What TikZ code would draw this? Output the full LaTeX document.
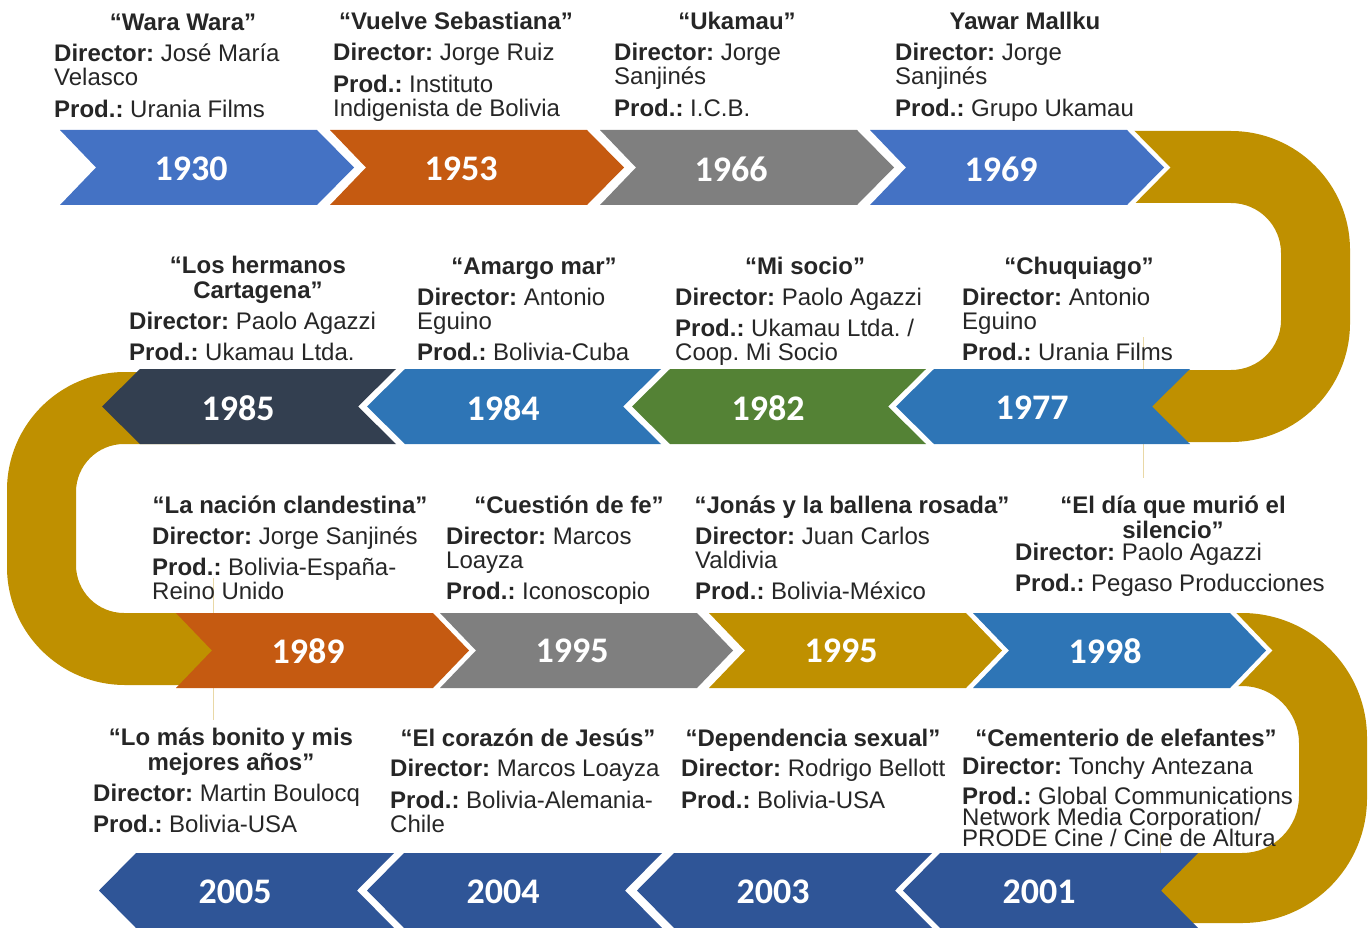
\documentclass[tikz,border=0pt]{standalone}
\usepackage{fontspec}
\setmainfont{Liberation Sans}
\newfontfamily\yearfont{Carlito}
\frenchspacing
\definecolor{blueA}{HTML}{4472C4}
\definecolor{blueB}{HTML}{2E75B6}
\definecolor{navyA}{HTML}{2F5597}
\definecolor{orangeA}{HTML}{C55A11}
\definecolor{grayA}{HTML}{7F7F7F}
\definecolor{goldA}{HTML}{BF9000}
\definecolor{greenA}{HTML}{548235}
\definecolor{slateA}{HTML}{333F50}
\definecolor{inkA}{HTML}{262626}
\tikzset{
    chev/.style = {draw = none},
    endchev/.style = {chev, preaction = {draw = white, line width = 9pt}},
    band/.style = {fill = goldA, draw = none},
    faint/.style = {draw = goldA!35, line width = 1pt},
    year/.style = {font = \yearfont\bfseries\fontsize{36}{36}\selectfont, text = white, inner sep = 0},
    title/.style = {font = \bfseries\fontsize{24}{24.5}\selectfont, text = inkA, anchor = base, inner sep = 0, align = center},
    info/.style = {font = \fontsize{24}{24}\selectfont, text = inkA, anchor = base west, inner sep = 0, align = left}
}
\begin{document}
\begin{tikzpicture}[x = 1pt, y = -1pt]
        \useasboundingbox (0, 0) rectangle (1370, 928);
        \fill[band] (1100, 131) -- (1231, 131) arc[start angle = -90, end angle = 0, radius = 119] -- (1350, 323) arc[start angle = 0, end angle = 90, radius = 119] -- (1100, 442) -- (1100, 370) -- (1231, 370) arc[start angle = 90, end angle = 0, radius = 50] -- (1281, 253) arc[start angle = 0, end angle = -90, radius = 50] -- (1100, 203) -- cycle;
        \fill[band] (200, 372) -- (125, 372) arc[start angle = -90, end angle = -180, radius = 118] -- (7, 567) arc[start angle = 180, end angle = 90, radius = 118] -- (240, 685) -- (240, 613) -- (124, 613) arc[start angle = 90, end angle = 180, radius = 48] -- (76, 492) arc[start angle = 180, end angle = 270, radius = 48] -- (200, 444) -- cycle;
        \fill[band] (1180, 613) -- (1242, 613) arc[start angle = -90, end angle = 0, radius = 125] -- (1367, 798) arc[start angle = 0, end angle = 90, radius = 125] -- (1150, 923) -- (1150, 853) -- (1242, 853) arc[start angle = 90, end angle = 0, radius = 57] -- (1299, 743) arc[start angle = 0, end angle = -90, radius = 57] -- (1180, 686) -- cycle;
        \draw[faint] (1143, 337) -- (1143, 478);
        \draw[faint] (213, 578) -- (213, 720);
        \draw[faint] (1160, 833) -- (1160, 928);
        \foreach \x/\c/\s/\yr [count = \i] in {60/blueA/chev/1930, 330/orangeA/chev/1953, 600/grayA/chev/1966, 870/blueA/endchev/1969} {
            \draw[\s, fill = \c] (\x, 130) -- ++(257, 0) -- ++(37, 37.5) -- ++(-37, 37.5) -- ++(-257, 0) -- ++(36, -37.5) -- cycle;
            \node[year] (r1-\i) at (\x + 131, 169) {\yr};
        }
        \foreach \x/\c/\yr [count = \i] in {140/slateA/1985, 405/blueB/1984, 670/greenA/1982, 934/blueB/1977} {
            \draw[chev, fill = \c] (\x, 369) -- ++(256, 0) -- ++(-38, 37.5) -- ++(38, 37.5) -- ++(-256, 0) -- ++(-38, -37.5) -- cycle;
            \node[year] (r2-\i) at (\x + 98, 408) {\yr};
        }
        \foreach \x/\c/\s/\yr [count = \i] in {176/orangeA/chev/1989, 440/grayA/chev/1995, 709/goldA/chev/1995, 973/blueB/endchev/1998} {
            \draw[\s, fill = \c] (\x, 613) -- ++(257, 0) -- ++(36, 37.5) -- ++(-36, 37.5) -- ++(-257, 0) -- ++(36, -37.5) -- cycle;
            \node[year] (r3-\i) at (\x + 132, 651) {\yr};
        }
        \foreach \x/\yr [count = \i] in {136/2005, 404/2004, 674/2003, 940/2001} {
            \draw[chev, fill = navyA] (\x, 853) -- ++(258, 0) -- ++(-37, 37.5) -- ++(37, 37.5) -- ++(-258, 0) -- ++(-37, -37.5) -- cycle;
            \node[year] (r4-\i) at (\x + 99, 892) {\yr};
        }
        \node[title] (t1) at (183, 31) {“Wara Wara”};
        \node[info] (i1) at (54, 118) {\textbf{Director:} José María\\Velasco\\[8pt]\textbf{Prod.:} Urania Films};
        \node[title] (t2) at (456, 30) {“Vuelve Sebastiana”};
        \node[info] (i2) at (333, 117) {\textbf{Director:} Jorge Ruiz\\[8pt]\textbf{Prod.:} Instituto\\Indigenista de Bolivia};
        \node[title] (t3) at (737, 30) {“Ukamau”};
        \node[info] (i3) at (614, 117) {\textbf{Director:} Jorge\\Sanjinés\\[8pt]\textbf{Prod.:} I.C.B.};
        \node[title] (t4) at (1025, 30) {Yawar Mallku};
        \node[info] (i4) at (895, 117) {\textbf{Director:} Jorge\\Sanjinés\\[8pt]\textbf{Prod.:} Grupo Ukamau};
        \node[title] (t5) at (258, 298) {“Los hermanos\\Cartagena”};
        \node[info] (i5) at (129, 360) {\textbf{Director:} Paolo Agazzi\\[7pt]\textbf{Prod.:} Ukamau Ltda.};
        \node[title] (t6) at (534, 274) {“Amargo mar”};
        \node[info] (i6) at (417, 360) {\textbf{Director:} Antonio\\Eguino\\[7pt]\textbf{Prod.:} Bolivia-Cuba};
        \node[title] (t7) at (805, 274) {“Mi socio”};
        \node[info] (i7) at (675, 360) {\textbf{Director:} Paolo Agazzi\\[7pt]\textbf{Prod.:} Ukamau Ltda. /\\Coop. Mi Socio};
        \node[title] (t8) at (1079, 274) {“Chuquiago”};
        \node[info] (i8) at (962, 360) {\textbf{Director:} Antonio\\Eguino\\[7pt]\textbf{Prod.:} Urania Films};
        \node[title] (t9) at (290, 513) {“La nación clandestina”};
        \node[info] (i9) at (152, 599) {\textbf{Director:} Jorge Sanjinés\\[7pt]\textbf{Prod.:} Bolivia-España-\\Reino Unido};
        \node[title] (t10) at (569, 513) {“Cuestión de fe”};
        \node[info] (i10) at (446, 599) {\textbf{Director:} Marcos\\Loayza\\[7pt]\textbf{Prod.:} Iconoscopio};
        \node[title] (t11) at (852, 513) {“Jonás y la ballena rosada”};
        \node[info] (i11) at (695, 599) {\textbf{Director:} Juan Carlos\\Valdivia\\[7pt]\textbf{Prod.:} Bolivia-México};
        \node[title] (t12) at (1173, 538) {“El día que murió el\\silencio”};
        \node[info] (i12) at (1015, 591) {\textbf{Director:} Paolo Agazzi\\[7pt]\textbf{Prod.:} Pegaso Producciones};
        \node[title] (t13) at (231, 770) {“Lo más bonito y mis\\mejores años”};
        \node[info] (i13) at (93, 832) {\textbf{Director:} Martin Boulocq\\[7pt]\textbf{Prod.:} Bolivia-USA};
        \node[title] (t14) at (528, 746) {“El corazón de Jesús”};
        \node[info] (i14) at (390, 832) {\textbf{Director:} Marcos Loayza\\[8pt]\textbf{Prod.:} Bolivia-Alemania-\\Chile};
        \node[title] (t15) at (813, 746) {“Dependencia sexual”};
        \node[info] (i15) at (681, 808) {\textbf{Director:} Rodrigo Bellott\\[8pt]\textbf{Prod.:} Bolivia-USA};
        \node[title] (t16) at (1126, 746) {“Cementerio de elefantes”};
        \node[info] (i16) at (962, 846) {\textbf{Director:} Tonchy Antezana\\[6pt]\textbf{Prod.:} Global Communications\\[-3pt]Network Media Corporation/\\[-3pt]PRODE Cine / Cine de Altura};
    \end{tikzpicture}
\end{document}
